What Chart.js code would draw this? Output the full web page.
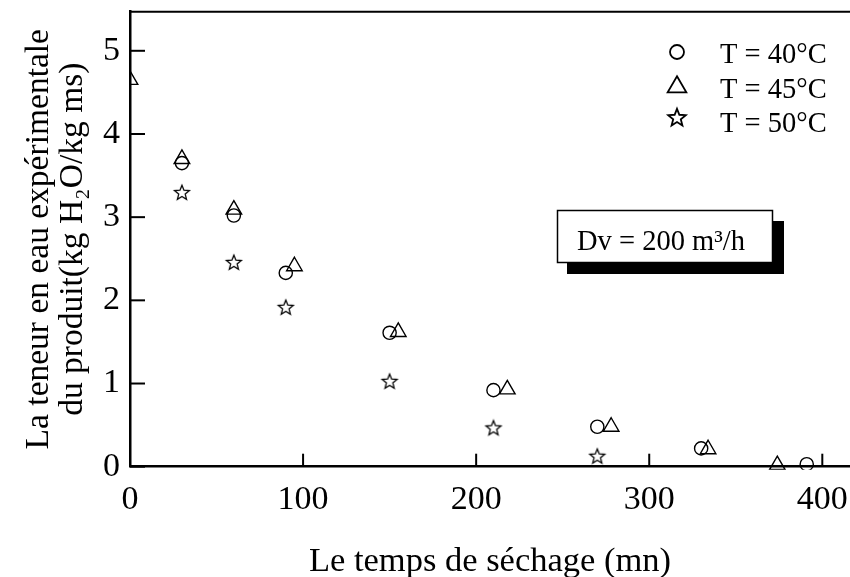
<!DOCTYPE html>
<html>
<head>
<meta charset="utf-8">
<script src="https://cdn.jsdelivr.net/npm/chart.js@4.4.0/dist/chart.umd.min.js"></script>
<style>
  html, body { margin: 0; padding: 0; background: #fff; }
  #chart { display: block; }
</style>
</head>
<body>
<canvas id="chart" width="850" height="577"></canvas>
<script>
const serif = '"Liberation Serif", "Times New Roman", serif';

// drying time (mn) and moisture content (kg H2O/kg ms) for each temperature
const time40 = [30, 60, 90, 150, 210, 270, 330, 391];
const moist40 = [3.65, 3.02, 2.33, 1.61, 0.92, 0.48, 0.22, 0.03];
const time45 = [0, 30, 60, 95, 155, 218, 278, 334, 374];
const moist45 = [4.65, 3.7, 3.09, 2.41, 1.62, 0.93, 0.48, 0.21, 0.02];
const time50 = [30, 60, 90, 150, 210, 270];
const moist50 = [3.29, 2.45, 1.91, 1.02, 0.46, 0.12];

const seriesLabels = ["T = 40°C", "T = 45°C", "T = 50°C"];
const xTicks = [0, 100, 200, 300, 400];
const yTicks = [0, 1, 2, 3, 4, 5];
const boxText = "Dv = 200 m³/h";

function makeStar(size, outer, inner, lw) {
  const c = document.createElement("canvas");
  c.width = size;
  c.height = size;
  const g = c.getContext("2d");
  g.beginPath();
  for (let i = 0; i < 10; i++) {
    const r = i % 2 === 0 ? outer : inner;
    const a = -Math.PI / 2 + (i * Math.PI) / 5;
    const px = size / 2 + r * Math.cos(a);
    const py = size / 2 + r * Math.sin(a);
    if (i === 0) g.moveTo(px, py);
    else g.lineTo(px, py);
  }
  g.closePath();
  g.lineWidth = lw;
  g.strokeStyle = "#000";
  g.stroke();
  return c;
}

const starPoint = makeStar(20, 7.8, 3.4, 1.3);
const starLegend = makeStar(24, 9.2, 4.0, 1.8);

function toPoints(xs, ys) {
  return xs.map((x, i) => ({ x: x, y: ys[i] }));
}

// top border, inward ticks, legend and the Dv box
const decorations = {
  id: "decorations",
  afterDraw(chart) {
    const ctx = chart.ctx;
    const area = chart.chartArea;
    const xs = chart.scales.x;
    const ys = chart.scales.y;
    ctx.save();
    ctx.strokeStyle = "#000";

    ctx.lineWidth = 2;
    ctx.beginPath();
    ctx.moveTo(area.left, area.top);
    ctx.lineTo(area.right, area.top);
    ctx.stroke();

    xTicks.forEach((v) => {
      const px = xs.getPixelForValue(v);
      ctx.beginPath();
      ctx.moveTo(px, area.bottom);
      ctx.lineTo(px, area.bottom - 13);
      ctx.stroke();
    });
    yTicks.forEach((v) => {
      const py = ys.getPixelForValue(v);
      ctx.beginPath();
      ctx.moveTo(area.left, py);
      ctx.lineTo(area.left + 15, py);
      ctx.stroke();
    });

    // legend
    ctx.lineWidth = 1.8;
    ctx.beginPath();
    ctx.arc(677, 52, 7, 0, Math.PI * 2);
    ctx.stroke();
    ctx.beginPath();
    const tr = 10.8;
    ctx.moveTo(677, 87 - tr);
    ctx.lineTo(677 + tr * Math.sin((2 * Math.PI) / 3), 87 - tr * Math.cos((2 * Math.PI) / 3));
    ctx.lineTo(677 + tr * Math.sin((4 * Math.PI) / 3), 87 - tr * Math.cos((4 * Math.PI) / 3));
    ctx.closePath();
    ctx.stroke();
    ctx.drawImage(starLegend, 677 - 12, 118 - 12);

    ctx.fillStyle = "#000";
    ctx.font = "28.5px " + serif;
    ctx.textAlign = "left";
    ctx.textBaseline = "alphabetic";
    const baselines = [63, 97.5, 132];
    seriesLabels.forEach((t, i) => ctx.fillText(t, 720, baselines[i]));

    // Dv box with shadow
    ctx.fillStyle = "#000";
    ctx.fillRect(567, 221, 217, 53);
    ctx.fillStyle = "#fff";
    ctx.fillRect(557, 210, 216, 53);
    ctx.lineWidth = 1.5;
    ctx.strokeRect(557.5, 210.5, 215, 52);
    ctx.fillStyle = "#000";
    ctx.font = "28.5px " + serif;
    ctx.fillText(boxText, 577, 250);
    ctx.restore();
  },
};

const chart = new Chart(document.getElementById("chart").getContext("2d"), {
  type: "scatter",
  data: {
    datasets: [
      {
        label: seriesLabels[0],
        data: toPoints(time40, moist40),
        pointStyle: "circle",
        pointRadius: 6.6,
        pointBorderWidth: 1.4,
        borderColor: "#000",
        backgroundColor: "rgba(0,0,0,0)",
      },
      {
        label: seriesLabels[1],
        data: toPoints(time45, moist45),
        pointStyle: "triangle",
        pointRadius: 9,
        pointBorderWidth: 1.4,
        borderColor: "#000",
        backgroundColor: "rgba(0,0,0,0)",
      },
      {
        label: seriesLabels[2],
        data: toPoints(time50, moist50),
        pointStyle: starPoint,
        pointRadius: 8,
        borderColor: "#000",
        backgroundColor: "rgba(0,0,0,0)",
      },
    ].map((d) => Object.assign(d, { clip: { left: 0, top: 10, right: 10, bottom: 3 } })),
  },
  options: {
    responsive: false,
    animation: false,
    layout: { autoPadding: false, padding: { top: 11.7, right: 0, left: 0, bottom: 0 } },
    plugins: {
      legend: { display: false },
      tooltip: { enabled: false },
    },
    scales: {
      x: {
        type: "linear",
        min: 0,
        max: 416,
        afterBuildTicks: (scale) => {
          scale.ticks = xTicks.map((v) => ({ value: v }));
        },
        afterFit: (scale) => {
          scale.height = 110.3;
          scale.paddingLeft = 0;
          scale.paddingRight = 0;
        },
        grid: { display: false, drawTicks: false },
        border: { display: true, color: "#000", width: 2.5 },
        ticks: {
          color: "#000",
          font: { family: serif, size: 34 },
          padding: 13,
          maxRotation: 0,
          autoSkip: false,
        },
        title: {
          display: true,
          text: "Le temps de séchage (mn)",
          color: "#000",
          font: { family: serif, size: 34.5, lineHeight: 0.9 },
          padding: { top: 0, bottom: 0 },
        },
      },
      y: {
        type: "linear",
        min: 0,
        max: 5.47,
        afterBuildTicks: (scale) => {
          scale.ticks = yTicks.map((v) => ({ value: v }));
        },
        afterFit: (scale) => {
          scale.width = 130;
          scale.paddingTop = 0;
          scale.paddingBottom = 0;
        },
        grid: { display: false, drawTicks: false },
        border: { display: true, color: "#000", width: 2.5 },
        ticks: {
          color: "#000",
          font: { family: serif, size: 34 },
          padding: 10,
          autoSkip: false,
        },
        title: {
          display: true,
          text: ["La teneur en eau expérimentale", "du produit(kg H₂O/kg ms)"],
          color: "#000",
          font: { family: serif, size: 33.5, lineHeight: 1.02 },
          padding: { top: 22, bottom: 0 },
        },
      },
    },
  },
  plugins: [decorations],
});
</script>
</body>
</html>
